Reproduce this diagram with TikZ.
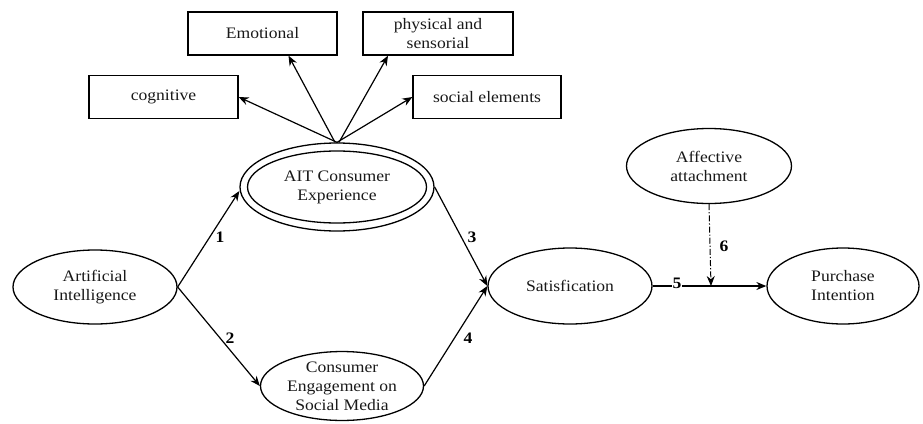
\documentclass[tikz,border=0pt]{standalone}
\usepackage{fontspec}
\setmainfont{Liberation Serif}[FakeStretch=1.1]
\usetikzlibrary{shapes.geometric,arrows.meta}
\begin{document}
\begin{tikzpicture}[x=1pt,y=-1pt,
  every node/.style={font=\fontsize{16}{19}\selectfont, text=black!90, align=center, inner sep=0pt},
  dimbox/.style={draw, line width=1.3pt, rectangle},
  construct/.style={draw, line width=1.3pt, ellipse},
  link/.style={line width=1.2pt, -{Stealth[length=10pt,width=8pt]}},
  modlink/.style={line width=1pt, dash pattern=on 6pt off 2pt on 1.2pt off 2pt, -{Stealth[length=10pt,width=8pt]}},
  num/.style={font=\fontsize{16}{18}\selectfont\bfseries, text=black}]
\useasboundingbox (0,0) rectangle (923,423);

% experience dimensions
\node[dimbox, minimum width=149pt, minimum height=43pt] (emo) at (262.5,33.5) {Emotional};
\node[dimbox, minimum width=150pt, minimum height=43pt] (phy) at (438,33.5) {physical and\\sensorial};
\node[dimbox, minimum width=149pt, minimum height=43pt] (cog) at (163.5,97) {cognitive};
\node[dimbox, minimum width=148pt, minimum height=43pt] (soc) at (487,97) {social elements};

% constructs
\node[construct, minimum width=194pt, minimum height=88pt] (ait) at (337,187) {};
\node[construct, minimum width=179pt, minimum height=72pt] (aitin) at (337,187) {AIT Consumer\\Experience};
\node[construct, minimum width=164pt, minimum height=74pt] (ai) at (95,287) {Artificial\\Intelligence};
\node[construct, minimum width=163pt, minimum height=67pt] (ce) at (342,386) {Consumer\\Engagement on\\Social Media};
\node[construct, minimum width=164pt, minimum height=76pt] (sat) at (570,286) {Satisfication};
\node[construct, minimum width=152pt, minimum height=76pt] (pur) at (843,286) {Purchase\\Intention};
\node[construct, minimum width=165pt, minimum height=75pt] (aff) at (709,166) {Affective\\attachment};

% dimensions of the experience
\draw[link] (ait.north) -- (cog.east);
\draw[link] ([xshift=-2pt]ait.north) -- ([xshift=26pt]emo.south);
\draw[link] ([xshift=2pt]ait.north) -- ([xshift=-50pt]phy.south);
\draw[link] (ait.north) -- (soc.west);

% structural paths
\draw[link] (ai.east) -- ([yshift=-4pt]ait.west);
\draw[link] (ai.east) -- (ce.west);
\draw[link] (ait.east) -- (sat.west);
\draw[link] (ce.east) -- (sat.west);
\draw[link] (sat.east) -- (pur.west);
\coordinate (mod) at (711,286);
\draw[modlink] (aff.south) -- (mod);

% path labels
\node[num] (n1) at (220,237) {1};
\node[num] (n2) at (230,338) {2};
\node[num] (n3) at (472,237) {3};
\node[num] (n4) at (468,338) {4};
\node[num, fill=white, inner sep=1pt] (n5) at (677,283) {5};
\node[num] (n6) at (724,246) {6};
\end{tikzpicture}
\end{document}
